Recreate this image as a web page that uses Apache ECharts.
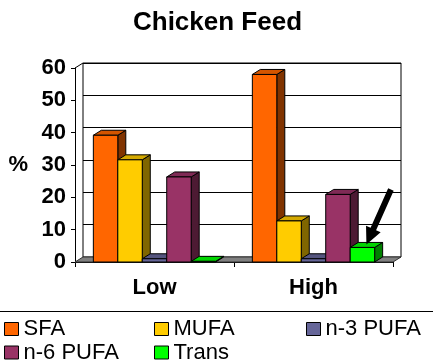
<!DOCTYPE html>
<html>
<head>
<meta charset="utf-8">
<script src="https://cdn.jsdelivr.net/npm/echarts@6/dist/echarts.min.js"></script>
<style>
  html, body { margin: 0; padding: 0; background: #fff; }
  #chart { width: 435px; height: 364px; }
</style>
</head>
<body>
<div id="chart"></div>
<script>
// Fatty acid profile of chicken feed, low vs high groups (% of total)
const categories = ['Low', 'High'];
const seriesNames = ['SFA', 'MUFA', 'n-3 PUFA', 'n-6 PUFA', 'Trans'];
const sfa = [39.2, 58.0];
const mufa = [31.6, 12.7];
const n3pufa = [1.0, 1.0];
const n6pufa = [26.3, 20.9];
const trans = [0.2, 4.5];
const yTicks = [0, 10, 20, 30, 40, 50, 60];

const seriesValues = [sfa, mufa, n3pufa, n6pufa, trans];
const frontColors = ['#FF6600', '#FFCC00', '#666699', '#993366', '#00FF00'];

const FONT = "'Liberation Sans', Arial, sans-serif";
const DX = 8, DY = -5;           // depth offset of the oblique projection
const GAP_RATIO = 1.5;           // gap between clusters, in bar widths
const FRONT = { left: 75, right: 42, top: 68, bottom: 102 };
const BACK = { left: FRONT.left + DX, right: FRONT.right - DX, top: FRONT.top + DY, bottom: FRONT.bottom - DY };

function shade(hex, f) {
  const n = parseInt(hex.slice(1), 16);
  const r = Math.round(((n >> 16) & 255) * f);
  const g = Math.round(((n >> 8) & 255) * f);
  const b = Math.round((n & 255) * f);
  return 'rgb(' + r + ',' + g + ',' + b + ')';
}

const edge = { stroke: '#000', lineWidth: 1, lineJoin: 'round' };

function barGeometry(api, catIndex, k) {
  const band = api.size([1, 0])[0];
  const w = band / (seriesNames.length + GAP_RATIO);
  const center = api.coord([catIndex, 0])[0];
  const x0 = center - w * seriesNames.length / 2 + k * w;
  return { x0: x0, x1: x0 + w, w: w };
}

function barRenderer(k) {
  const front = frontColors[k];
  const top = shade(front, 0.83);
  const side = shade(front, 0.5);
  return function (params, api) {
    const ci = api.value(0);
    const v = api.value(1);
    const g = barGeometry(api, ci, k);
    const yb = api.coord([ci, 0])[1];
    const yt = api.coord([ci, v])[1];
    return {
      type: 'group',
      children: [
        { type: 'polygon',
          shape: { points: [[g.x1, yb], [g.x1 + DX, yb + DY], [g.x1 + DX, yt + DY], [g.x1, yt]] },
          style: Object.assign({ fill: side }, edge) },
        { type: 'polygon',
          shape: { points: [[g.x0, yt], [g.x1, yt], [g.x1 + DX, yt + DY], [g.x0 + DX, yt + DY]] },
          style: Object.assign({ fill: top }, edge) },
        { type: 'rect',
          shape: { x: g.x0, y: yt, width: g.w, height: yb - yt },
          style: Object.assign({ fill: front }, edge) }
      ]
    };
  };
}

// floor of the plot plus the top edge of the left wall
function floorRenderer(params, api) {
  const band = api.size([1, 0])[0];
  const left = api.coord([0, 0])[0] - band / 2;
  const right = api.coord([categories.length - 1, 0])[0] + band / 2;
  const y0 = api.coord([0, 0])[1];
  const yMax = api.coord([0, yTicks[yTicks.length - 1]])[1];
  return {
    type: 'group',
    children: [
      { type: 'polygon',
        shape: { points: [[left, y0], [right, y0], [right + DX, y0 + DY], [left + DX, y0 + DY]] },
        style: { fill: '#808080', stroke: '#333', lineWidth: 1 } },
      { type: 'line',
        shape: { x1: left, y1: yMax, x2: left + DX, y2: yMax + DY },
        style: { stroke: '#000', lineWidth: 1 } }
    ]
  };
}

// arrow pointing at the Trans bar of the given cluster
function arrowRenderer(params, api) {
  const ci = api.value(0);
  const v = api.value(1);
  const k = seriesNames.indexOf('Trans');
  const g = barGeometry(api, ci, k);
  const yt = api.coord([ci, v])[1];
  const tip = [g.x0 + g.w * 0.5 + DX / 2, yt + DY / 2 - 0.5];
  const tail = [tip[0] + 24.5, tip[1] - 55];
  const dx = tip[0] - tail[0], dy = tip[1] - tail[1];
  const len = Math.sqrt(dx * dx + dy * dy);
  const ux = dx / len, uy = dy / len;
  const nx = -uy, ny = ux;
  const shaft = 3, headW = 8, headL = 17;
  const hx = tip[0] - ux * headL, hy = tip[1] - uy * headL;
  return {
    type: 'polygon',
    shape: { points: [
      [tail[0] + nx * shaft, tail[1] + ny * shaft],
      [hx + nx * shaft, hy + ny * shaft],
      [hx + nx * headW, hy + ny * headW],
      tip,
      [hx - nx * headW, hy - ny * headW],
      [hx - nx * shaft, hy - ny * shaft],
      [tail[0] - nx * shaft, tail[1] - ny * shaft]
    ] },
    style: { fill: '#000' }
  };
}

const yMin = yTicks[0];
const yMax = yTicks[yTicks.length - 1];
const yStep = yTicks[1] - yTicks[0];

const barSeries = seriesNames.map(function (name, k) {
  return {
    name: name,
    type: 'custom',
    xAxisIndex: 0,
    yAxisIndex: 0,
    renderItem: barRenderer(k),
    itemStyle: { color: frontColors[k], borderColor: '#000', borderWidth: 1 },
    encode: { x: 0, y: 1 },
    data: seriesValues[k].map(function (v, i) { return [i, v]; }),
    z: 3
  };
});

const legendBase = {
  orient: 'vertical',
  top: 318,
  padding: 0,
  itemWidth: 14,
  itemHeight: 13,
  itemGap: 1.5,
  icon: 'rect',
  selectedMode: false,
  itemStyle: { borderColor: '#000', borderWidth: 1 },
  textStyle: { fontFamily: FONT, fontSize: 22, color: '#000', lineHeight: 22 }
};

const option = {
  animation: false,
  backgroundColor: '#fff',
  title: {
    text: 'Chicken Feed',
    left: 'center',
    top: 5,
    textStyle: { fontFamily: FONT, fontSize: 26, fontWeight: 'bold', color: '#000' }
  },
  legend: [
    Object.assign({}, legendBase, { left: 4, data: ['SFA', 'n-6 PUFA'] }),
    Object.assign({}, legendBase, { left: 154, data: ['MUFA', 'Trans'] }),
    Object.assign({}, legendBase, { left: 306, data: ['n-3 PUFA'] })
  ],
  graphic: [{
    type: 'line',
    shape: { x1: 0, y1: 311.5, x2: 433, y2: 311.5 },
    style: { stroke: '#000', lineWidth: 1 }
  }],
  grid: [
    Object.assign({}, FRONT, { containLabel: false }),
    Object.assign({}, BACK, { containLabel: false, show: true, backgroundColor: '#fff', borderColor: '#000', borderWidth: 1, z: -1 })
  ],
  xAxis: [
    {
      type: 'category',
      gridIndex: 0,
      data: categories,
      axisLine: { lineStyle: { color: '#000', width: 1 } },
      axisTick: { show: true, length: 5, lineStyle: { color: '#000' } },
      axisLabel: { margin: 15, fontFamily: FONT, fontSize: 22, fontWeight: 'bold', color: '#000' },
      splitLine: { show: false }
    },
    {
      type: 'category',
      gridIndex: 1,
      data: categories,
      show: false
    }
  ],
  yAxis: [
    {
      type: 'value',
      gridIndex: 0,
      min: yMin, max: yMax, interval: yStep,
      name: '%',
      nameLocation: 'middle',
      nameRotate: 0,
      nameGap: 47,
      nameTextStyle: { fontFamily: FONT, fontSize: 22, fontWeight: 'bold', color: '#000', padding: [5, 0, 0, 0] },
      axisLine: { show: true, lineStyle: { color: '#000', width: 1 } },
      axisTick: { show: true, length: 4, lineStyle: { color: '#000' } },
      axisLabel: { margin: 9, padding: [4, 0, 0, 0], fontFamily: FONT, fontSize: 22, fontWeight: 'bold', color: '#000' },
      splitLine: { show: false }
    },
    {
      type: 'value',
      gridIndex: 1,
      min: yMin, max: yMax, interval: yStep,
      axisLine: { show: false },
      axisTick: { show: false },
      axisLabel: { show: false },
      splitLine: { show: true, lineStyle: { color: '#000', width: 1 } },
      z: -1
    }
  ],
  series: [
    {
      name: 'floor',
      type: 'custom',
      xAxisIndex: 0,
      yAxisIndex: 0,
      renderItem: floorRenderer,
      data: [[0, 0]],
      silent: true,
      z: 1
    }
  ].concat(barSeries).concat([
    {
      name: 'arrow',
      type: 'custom',
      xAxisIndex: 0,
      yAxisIndex: 0,
      renderItem: arrowRenderer,
      encode: { x: 0, y: 1 },
      data: [[categories.indexOf('High'), trans[categories.indexOf('High')]]],
      silent: true,
      z: 10
    }
  ])
};

const chart = echarts.init(document.getElementById('chart'), null, { renderer: 'canvas' });
chart.setOption(option);
</script>
</body>
</html>
